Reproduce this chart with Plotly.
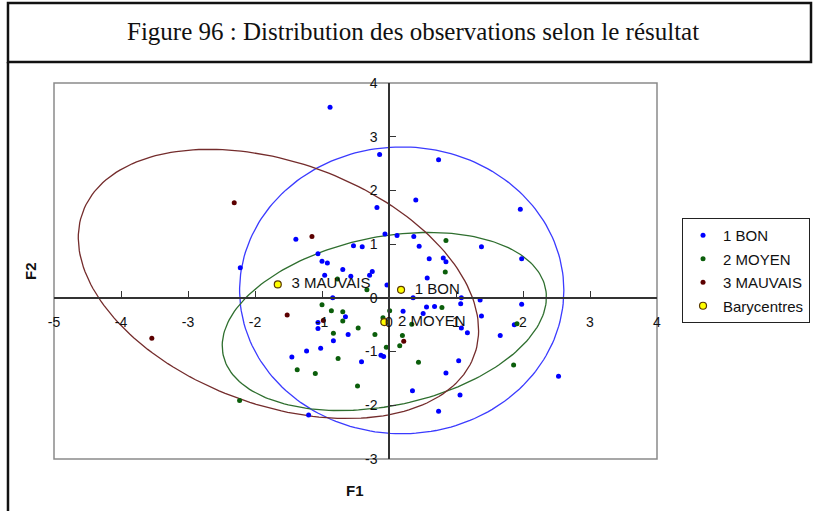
import numpy as np
import plotly.graph_objects as go

# observations (F1, F2)
bon_f1 = [-0.88, -0.14, 0.74, 0.40, -0.18, 1.96, -1.39, -0.06, 0.12, 0.37, -0.53, -0.40, 0.45, 1.38,
          -1.06, -1.00, -0.92, -0.69, -2.22, -0.96, -0.57, -0.29, -0.25, 0.60, 0.81, 0.85, 1.98, 0.57,
          -0.03, -0.84, 0.36, 1.08, 1.36, 1.07, 1.98, 0.56, 0.68, 0.21, 0.51, 1.38, 1.08, 1.17, 1.66,
          1.87, -1.06, -1.06, -0.65, -0.61, -0.83, -1.02, -1.23, -1.45, -0.41, -0.12, -0.08, 1.04,
          0.85, 2.53, 0.35, 1.06, 0.74, -1.20]
bon_f2 = [3.55, 2.67, 2.57, 1.82, 1.68, 1.65, 1.09, 1.19, 1.16, 1.14, 0.97, 0.95, 0.96, 0.95,
          0.82, 0.68, 0.65, 0.53, 0.56, 0.42, 0.40, 0.42, 0.49, 0.73, 0.74, 0.67, 0.73, 0.37,
          0.24, 0.00, 0.00, 0.00, -0.04, -0.11, -0.12, -0.17, -0.16, -0.25, -0.29, -0.34, -0.56, -0.65, -0.70,
          -0.50, -0.46, -0.57, -0.35, -0.68, -0.80, -0.94, -0.99, -1.10, -1.19, -1.07, -1.09, -1.17,
          -1.40, -1.46, -1.73, -1.81, -2.11, -2.18]

moyen_f1 = [0.85, 0.84, -0.77, -0.33, 0.79, -1.00, -0.86, -0.69, -0.69, -0.83, -0.46, -0.21, -0.09,
            0.01, -0.04, 0.16, 0.20, 0.34, 0.44, -0.76, -1.37, -1.10, -0.47, 1.86, 1.91, -2.23]
moyen_f2 = [1.07, 0.48, 0.35, 0.15, -0.18, -0.13, -0.24, -0.26, -0.43, -0.66, -0.56, -0.68, -0.37,
            -0.24, -0.92, -0.89, -0.70, -0.49, -1.20, -1.13, -1.34, -1.41, -1.64, -1.25, -0.48, -1.91]

mauvais_f1 = [-2.31, -1.15, -1.52, -0.98, -3.54, 0.22]
mauvais_f2 = [1.77, 1.14, -0.32, -0.42, -0.75, -0.81]

bary_names = ["1 BON", "2 MOYEN", "3 MAUVAIS"]
bary_f1 = [0.18, -0.07, -1.66]
bary_f2 = [0.15, -0.45, 0.25]

# ellipses: centre, semi-axes, rotation (degrees)
ell_cx = [0.19, -0.07, -1.65]
ell_cy = [0.14, -0.44, 0.26]
ell_a = [2.42, 2.49, 3.24]
ell_b = [2.67, 1.55, 2.17]
ell_rot = [0, 17.6, -31.4]

x_ticks = [-5, -4, -3, -2, -1, 0, 1, 2, 3, 4]
x_labels = ["-5", "-4", "-3", "-2", "-1", "0", "1", "2", "3", "4"]
y_ticks = [-3, -2, -1, 0, 1, 2, 3, 4]
y_labels = ["-3", "-2", "-1", "0", "1", "2", "3", "4"]

colors = ["#0000ff", "#0b5e0b", "#5c0000"]
ell_colors = ["#3b3bff", "#2f6f2f", "#742c2c"]

fig = go.Figure()

t = np.linspace(0, 2 * np.pi, 200)
for cx, cy, a, b, r, c in zip(ell_cx, ell_cy, ell_a, ell_b, ell_rot, ell_colors):
    th = np.radians(r)
    ex = cx + a * np.cos(t) * np.cos(th) - b * np.sin(t) * np.sin(th)
    ey = cy + a * np.cos(t) * np.sin(th) + b * np.sin(t) * np.cos(th)
    fig.add_trace(go.Scatter(x=ex, y=ey, mode="lines", line=dict(color=c, width=1.3),
                             showlegend=False, hoverinfo="skip"))

for name, xs, ys, c in [("1 BON", bon_f1, bon_f2, colors[0]),
                        ("2 MOYEN", moyen_f1, moyen_f2, colors[1]),
                        ("3 MAUVAIS", mauvais_f1, mauvais_f2, colors[2])]:
    fig.add_trace(go.Scatter(x=xs, y=ys, mode="markers", name=name, legendgroup=name,
                             marker=dict(color=c, size=5)))

fig.add_trace(go.Scatter(x=bary_f1, y=bary_f2, mode="markers+text", name="Barycentres",
                         legendgroup="bary", text=bary_names, textposition="middle right",
                         texttemplate="\u00a0\u00a0%{text}",
                         textfont=dict(family="Arial, Liberation Sans", size=15, color="#111"),
                         marker=dict(color="#ffff00", size=7, line=dict(color="#5a3a00", width=1.2))))

axis_font = dict(family="Arial, Liberation Sans", size=14, color="#111")
fig.update_xaxes(range=[-5, 4], domain=[0, 1], anchor="free", position=3 / 7,
                 tickvals=x_ticks, ticktext=x_labels, showgrid=False, zeroline=False, showline=True,
                 linecolor="#333", linewidth=1.5, ticks="inside", ticklen=6,
                 tickcolor="#333", tickwidth=1.3, tickfont=axis_font, ticklabelstandoff=12)
fig.update_yaxes(range=[-3, 4], domain=[0, 1], anchor="free", position=5 / 9,
                 tickvals=y_ticks, ticktext=y_labels, showgrid=False, zeroline=False, showline=True,
                 linecolor="#333", linewidth=1.5, ticks="inside", ticklen=6,
                 tickcolor="#333", tickwidth=1.3, tickfont=axis_font, ticklabelstandoff=8)

# plot frame and figure box
fig.add_shape(type="rect", xref="paper", yref="paper", x0=0, x1=1, y0=0, y1=1,
              line=dict(color="#8a8a8a", width=1.5), layer="below")
box = dict(color="#111", width=2.5)
fig.add_shape(type="rect", xref="paper", yref="paper", x0=-0.0763, x1=1.2554, y0=1.0559, y1=1.2128,
              line=box)
fig.add_shape(type="line", xref="paper", yref="paper", x0=-0.0763, x1=-0.0763, y0=-0.15, y1=1.0559,
              line=box)

fig.add_annotation(text="Figure 96 : Distribution des observations selon le résultat",
                   xref="paper", yref="paper", x=0.595, y=1.136, xanchor="center", yanchor="middle",
                   showarrow=False,
                   font=dict(family="Liberation Serif, Times New Roman", size=25, color="#111"))
fig.add_annotation(text="<b>F1</b>", xref="paper", yref="paper", x=0.499, y=-0.083,
                   xanchor="center", yanchor="middle", showarrow=False,
                   font=dict(family="Arial, Liberation Sans", size=15, color="#111"))
fig.add_annotation(text="<b>F2</b>", xref="paper", yref="paper", x=-0.04, y=0.5, textangle=-90,
                   xanchor="center", yanchor="middle", showarrow=False,
                   font=dict(family="Arial, Liberation Sans", size=15, color="#111"))

fig.update_layout(
    width=813, height=511,
    margin=dict(l=54, r=156, t=83, b=52, autoexpand=False),
    paper_bgcolor="white", plot_bgcolor="white",
    legend=dict(x=1.0415, y=0.641, xanchor="left", yanchor="top",
                bordercolor="#222", borderwidth=1, itemwidth=30,
                font=dict(family="Arial, Liberation Sans", size=15, color="#111"),
                itemsizing="trace", tracegroupgap=1),
)

# drop the page's default body margin so the figure sits at the window's corner
fig.write_html("out.html", config={"displayModeBar": False},
               post_script="document.body.style.margin = '0px';")
